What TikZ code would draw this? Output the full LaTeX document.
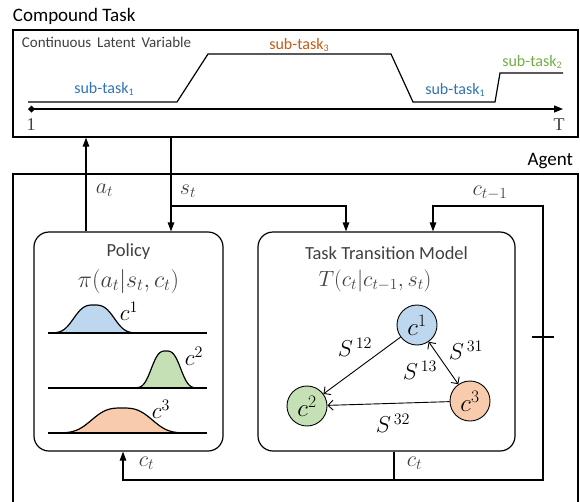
\RequirePackage{fix-cm}
\documentclass[tikz,border=0pt]{standalone}
\usepackage{fontspec}
\setmainfont{Carlito}
\newfontfamily\seriffont{Liberation Serif}
\usetikzlibrary{arrows.meta}
\definecolor{txtgray}{HTML}{404040}
\definecolor{blueF}{HTML}{BDD7EE}
\definecolor{greenF}{HTML}{C5E0B4}
\definecolor{orangeF}{HTML}{F8CBAD}
\definecolor{blueT}{HTML}{2E75B6}
\definecolor{orangeT}{HTML}{C55A11}
\definecolor{greenT}{HTML}{70AD47}
\newcommand{\sbs}[1]{\raisebox{-2.5pt}{\fontsize{10}{10}\selectfont #1}}
\begin{document}
\begin{tikzpicture}[x=1pt,y=-1pt,line width=1.2pt,
  box/.style={draw,inner sep=0pt},
  rbox/.style={draw,inner sep=0pt,rounded corners=15pt},
  ttl/.style={text=txtgray,font=\fontsize{18.5}{20}\selectfont},
  mlbl/.style={text=txtgray,font=\fontsize{22}{24}\selectfont},
  sub/.style={font=\fontsize{16}{18}\selectfont},
  arr/.style={-{Triangle[length=9pt,width=6.5pt]}},
  garr/.style={line width=0.9pt,-{Straight Barb[length=5pt,width=10pt]}},
  gdarr/.style={line width=0.9pt,{Straight Barb[length=5pt,width=10pt]}-{Straight Barb[length=5pt,width=10pt]}},
  cnode/.style={circle,draw,line width=0.9pt,minimum size=40pt,inner sep=0pt,font=\fontsize{25}{26}\selectfont}
]
\useasboundingbox (0,0) rectangle (580,501);

% ---------- Compound task ----------
\node[anchor=west,font=\fontsize{19}{21}\selectfont] (ctitle) at (9,16) {Compound Task};
\node[box,minimum width=565pt,minimum height=107pt] (task) at (295.5,83.5) {};
\node[anchor=west,text=txtgray,font=\fontsize{15}{17}\selectfont] (clv) at (18,42) {Continuous\, Latent\, Variable};
\draw[{Diamond[length=7pt,width=7pt]}-{Triangle[length=9pt,width=7pt]}] (28,109) -- (563,109);
\draw (28,102) -- (177,102) -- (208,54) -- (391,54) -- (413,102) -- (495,102) -- (500,73) -- (563,73);
\node[font=\fontsize{18}{18}\selectfont\seriffont,text=txtgray] (one) at (31,125) {1};
\node[font=\fontsize{18}{18}\selectfont\seriffont,text=txtgray] (tee) at (559,125) {T};
\node[sub,text=blueT] (st1a) at (104,89) {sub-task\sbs{1}};
\node[sub,text=orangeT] (st3) at (299,45) {sub-task\sbs{3}};
\node[sub,text=greenT] (st2) at (532,62) {sub-task\sbs{2}};
\node[sub,text=blueT] (st1b) at (455,90) {sub-task\sbs{1}};

% ---------- Agent ----------
\node[anchor=east,font=\fontsize{19}{21}\selectfont] (atitle) at (577,161) {Agent};
\node[box,minimum width=565pt,minimum height=340pt] (agent) at (295.5,344) {};

% Policy
\node[rbox,minimum width=189pt,minimum height=219pt] (policy) at (128.5,341.5) {};
\node[ttl] (ptitle) at (128.5,252) {Policy};
\node[mlbl,font=\fontsize{24}{26}\selectfont] (pform) at (128.5,281) {$\pi(a_t|s_t,c_t)$};

% Distributions
\fill[blueF] plot[domain=-42:42,samples=90] ({94+\x},{333-28*exp(-abs(\x/23.5)*abs(\x/23.5)*abs(\x/23.5))}) -- cycle;
\draw plot[domain=-42:42,samples=90] ({94+\x},{333-28*exp(-abs(\x/23.5)*abs(\x/23.5)*abs(\x/23.5))});
\draw (48,333) -- (207,333);
\fill[greenF] plot[domain=-34:34,samples=90] ({166+\x},{388-37*exp(-abs(\x/17)*abs(\x/17)*abs(\x/17))}) -- cycle;
\draw plot[domain=-34:34,samples=90] ({166+\x},{388-37*exp(-abs(\x/17)*abs(\x/17)*abs(\x/17))});
\draw (48,388) -- (207,388);
\fill[orangeF] plot[domain=-70:70,samples=90] ({122+\x},{433-25*exp(-abs(\x/35)*abs(\x/35)*abs(\x/35))}) -- cycle;
\draw plot[domain=-70:70,samples=90] ({122+\x},{433-25*exp(-abs(\x/35)*abs(\x/35)*abs(\x/35))});
\draw (48,433) -- (207,433);
\node[font=\fontsize{23}{24}\selectfont] (g1) at (129,311) {$c^1$};
\node[font=\fontsize{23}{24}\selectfont] (g2) at (194,356) {$c^2$};
\node[font=\fontsize{23}{24}\selectfont] (g3) at (161,409) {$c^3$};

% Task transition model
\node[rbox,minimum width=257pt,minimum height=219pt] (ttm) at (386.5,341.5) {};
\node[ttl] (ttitle) at (386.5,253) {Task Transition Model};
\node[mlbl] (tform) at (375,281) {$T(c_t|c_{t-1},s_t)$};
\node[cnode,fill=blueF] (c1) at (417,325) {$c^1$};
\node[cnode,fill=greenF] (c2) at (307,406) {$c^2$};
\node[cnode,fill=orangeF] (c3) at (470,401) {$c^3$};
\draw[garr] (c1) -- (c2);
\draw[gdarr] (c1) -- (c3);
\draw[garr] (c3) -- (c2);
\node[mlbl,text=black,font=\fontsize{23}{24}\selectfont] (s12) at (355,347) {$S^{\,12}$};
\node[mlbl,text=black,font=\fontsize{23}{24}\selectfont] (s13) at (420,370) {$S^{\,13}$};
\node[mlbl,text=black,font=\fontsize{23}{24}\selectfont] (s31) at (466,350) {$S^{\,31}$};
\node[mlbl,text=black,font=\fontsize{23}{24}\selectfont] (s32) at (393,423) {$S^{\,32}$};

% ---------- connectors ----------
\coordinate (ax) at (86,0);
\coordinate (sx) at (171,0);
\coordinate (sb) at (171,206);
\coordinate (sx2) at (346,0);
\coordinate (cx) at (433,0);
\coordinate (rt) at (543,206);
\coordinate (rb) at (543,480);
\coordinate (jx) at (394,0);
\coordinate (jb) at (394,480);
\coordinate (lb) at (123,480);
\draw[arr] (ax |- policy.north) -- (ax |- task.south);
\draw[arr] (sx |- task.south) -- (sx |- policy.north);
\draw[arr] (sb) -- (sx2 |- sb) -- (sx2 |- ttm.north);
\draw[arr] (jx |- ttm.south) -- (jb) -- (lb) -- (lb |- policy.south);
\draw[arr] (jb) -- (rb) -- (rt) -- (cx |- rt) -- (cx |- ttm.north);
\draw (532,337) -- (554,337);

\node[mlbl,anchor=west] (lat) at (92,190) {$a_t$};
\node[mlbl,anchor=west] (lst) at (176,191) {$s_t$};
\node[mlbl] (lct1) at (490,193) {$c_{t-1}$};
\node[mlbl,anchor=west] (lct) at (135,463) {$c_t$};
\node[mlbl,anchor=west] (lct2) at (403,463) {$c_t$};
\end{tikzpicture}
\end{document}
